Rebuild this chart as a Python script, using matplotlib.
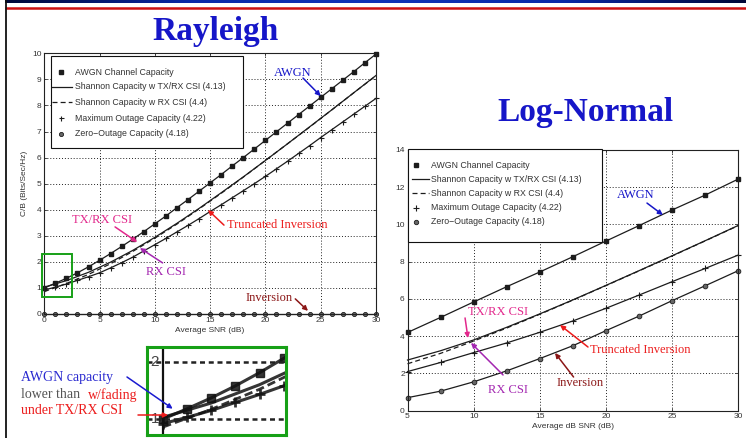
import matplotlib
matplotlib.use("Agg")
import matplotlib.pyplot as plt
import numpy as np
from matplotlib.colors import LinearSegmentedColormap
from matplotlib.patches import Rectangle

W, H = 746, 438

# ---------------------------------------------------------------------------
# Datos
# ---------------------------------------------------------------------------
ray_snr = [0, 1, 2, 3, 4, 5, 6, 7, 8, 9, 10, 11, 12, 13, 14, 15,
           16, 17, 18, 19, 20, 21, 22, 23, 24, 25, 26, 27, 28, 29, 30]
ray_awgn = [1.00, 1.18, 1.37, 1.58, 1.81, 2.06, 2.32, 2.59, 2.87, 3.16, 3.46,
            3.76, 4.08, 4.39, 4.71, 5.03, 5.35, 5.68, 6.00, 6.33, 6.66,
            6.99, 7.32, 7.65, 7.98, 8.31, 8.64, 8.97, 9.30, 9.64, 9.97]
ray_csi_snr = [0, 2, 4, 6, 8, 10, 12, 14, 16, 18, 20, 22, 24, 26, 28, 30]
ray_txrx = [1.03, 1.28, 1.60, 1.99, 2.44, 2.94, 3.48, 4.05, 4.65, 5.26, 5.89,
            6.53, 7.18, 7.83, 8.49, 9.15]
ray_rx = [0.86, 1.17, 1.52, 1.93, 2.40, 2.91, 3.45, 4.03, 4.63, 5.25, 5.89,
          6.53, 7.17, 7.83, 8.49, 9.14]
ray_trunc = [0.92, 1.03, 1.15, 1.29, 1.43, 1.58, 1.77, 1.97, 2.18, 2.42, 2.66,
             2.90, 3.15, 3.40, 3.66, 3.93, 4.19, 4.46, 4.73, 5.00, 5.28,
             5.57, 5.86, 6.16, 6.46, 6.77, 7.07, 7.37, 7.67, 7.97, 8.27]
ray_zero = [0, 0, 0, 0, 0, 0, 0, 0, 0, 0, 0, 0, 0, 0, 0, 0,
            0, 0, 0, 0, 0, 0, 0, 0, 0, 0, 0, 0, 0, 0, 0]

ln_snr = [5, 7.5, 10, 12.5, 15, 17.5, 20, 22.5, 25, 27.5, 30]
ln_awgn = [4.20, 5.01, 5.84, 6.66, 7.45, 8.27, 9.11, 9.94, 10.78, 11.58, 12.44]
ln_txrx = [2.72, 3.22, 3.80, 4.48, 5.20, 5.95, 6.73, 7.52, 8.32, 9.13, 9.95]
ln_rx = [2.52, 3.08, 3.74, 4.44, 5.18, 5.94, 6.72, 7.51, 8.31, 9.12, 9.94]
ln_trunc = [2.10, 2.59, 3.12, 3.64, 4.21, 4.82, 5.50, 6.21, 6.93, 7.64, 8.36]
ln_zero = [0.70, 1.05, 1.55, 2.14, 2.80, 3.49, 4.30, 5.08, 5.91, 6.71, 7.52]

legend_labels = [
    "AWGN Channel Capacity",
    "Shannon Capacity w TX/RX CSI (4.13)",
    "Shannon Capacity w RX CSI (4.4)",
    "Maximum Outage Capacity (4.22)",
    "Zero\u2212Outage Capacity (4.18)",
]

LINE = "#1c1c1c"
BLUE = "#1616c8"
PINK = "#e2288c"
PURPLE = "#a326b0"
RED = "#ec1c1c"
DARKRED = "#8b1616"
GREEN = "#17a017"
SERIF = ["Liberation Serif", "DejaVu Serif"]

plt.rcParams["font.family"] = ["Liberation Sans", "DejaVu Sans"]

fig = plt.figure(figsize=(W / 100, H / 100), dpi=100)


def px_axes(x0, y0, x1, y1, **kw):
    return fig.add_axes([x0 / W, 1 - y1 / H, (x1 - x0) / W, (y1 - y0) / H], **kw)


def style_axes(ax):
    ax.grid(True, linestyle=(0, (1, 2)), color="#222", lw=0.7)
    ax.tick_params(direction="in", length=2.5, width=0.6, labelsize=6,
                   colors="#333", pad=2, top=True, right=True)
    for s in ax.spines.values():
        s.set_linewidth(0.8)
        s.set_color("#222")


def plot_curves(ax, x_awgn, awgn, x_csi, txrx, rx, x_out, trunc, zero, ms=2.6):
    ax.plot(x_awgn, awgn, color=LINE, lw=0.9, marker="s", ms=ms,
            mfc=LINE, mec=LINE, clip_on=False)
    ax.plot(x_csi, txrx, color=LINE, lw=0.9, clip_on=False)
    ax.plot(x_csi, rx, color=LINE, lw=0.9, ls=(0, (4, 2.5)), clip_on=False)
    ax.plot(x_out, trunc, color=LINE, lw=0.9, marker="+", ms=ms + 1,
            mew=0.8, clip_on=False)
    ax.plot(x_out, zero, color=LINE, lw=0.9, marker="o", ms=ms + 0.4,
            mfc="#666", mec=LINE, mew=0.6, clip_on=False)


def arrow(ax, tail, head, color):
    ax.annotate("", xy=head, xytext=tail,
                arrowprops=dict(arrowstyle="-|>", color=color, lw=1.1,
                                mutation_scale=7, shrinkA=0, shrinkB=0))


# ---- Rayleigh ----
ax_r = px_axes(44.3, 53.3, 376, 314)
style_axes(ax_r)
plot_curves(ax_r, ray_snr, ray_awgn, ray_csi_snr, ray_txrx, ray_rx,
            ray_snr, ray_trunc, ray_zero)
ax_r.set_xlim(0, 30)
ax_r.set_ylim(0, 10)
ax_r.set_xticks(range(0, 31, 5))
ax_r.set_yticks(range(0, 11))

ann = dict(fontsize=9, family=SERIF)
ax_r.text(22.5, 9.24, "AWGN", color=BLUE, ha="center", va="center", **ann)
arrow(ax_r, (23.4, 9.05), (25.0, 8.36), BLUE)
ax_r.text(5.25, 3.6, "TX/RX CSI", color=PINK, ha="center", va="center", **ann)
arrow(ax_r, (6.4, 3.34), (8.4, 2.76), PINK)
ax_r.text(11.0, 1.61, "RX CSI", color=PURPLE, ha="center", va="center", **ann)
arrow(ax_r, (10.7, 1.96), (8.65, 2.53), PURPLE)
ax_r.text(16.5, 3.41, "Truncated Inversion", color=RED, ha="left", va="center", **ann)
arrow(ax_r, (16.25, 3.41), (14.8, 3.99), RED)
ax_r.text(20.3, 0.61, "Inversion", color=DARKRED, ha="center", va="center", **ann)
arrow(ax_r, (22.7, 0.58), (23.85, 0.12), DARKRED)

# ---- Log-Normal ----
ax_l = px_axes(407.5, 150, 738.3, 410.7)
style_axes(ax_l)
plot_curves(ax_l, ln_snr, ln_awgn, ln_snr, ln_txrx, ln_rx,
            ln_snr, ln_trunc, ln_zero, ms=3.0)
ax_l.set_xlim(5, 30)
ax_l.set_ylim(0, 14)
ax_l.set_xticks(range(5, 31, 5))
ax_l.set_yticks(range(0, 15, 2))

ax_l.text(22.23, 11.58, "AWGN", color=BLUE, ha="center", va="center", **ann)
arrow(ax_l, (23.1, 11.15), (24.3, 10.51), BLUE)
ax_l.text(11.84, 5.3, "TX/RX CSI", color=PINK, ha="center", va="center", **ann)
arrow(ax_l, (9.35, 4.98), (9.57, 3.9), PINK)
ax_l.text(12.6, 1.11, "RX CSI", color=PURPLE, ha="center", va="center", **ann)
arrow(ax_l, (12.22, 1.92), (9.8, 3.64), PURPLE)
ax_l.text(18.8, 3.26, "Truncated Inversion", color=RED, ha="left", va="center", **ann)
arrow(ax_l, (18.64, 3.42), (16.53, 4.6), RED)
ax_l.text(18.08, 1.49, "Inversion", color=DARKRED, ha="center", va="center", **ann)
arrow(ax_l, (17.55, 1.81), (16.15, 3.1), DARKRED)

# ---- Recuadro ampliado ----
ins = px_axes(147, 347, 286, 435, zorder=6)
ins.plot(ray_snr, ray_awgn, color="#111", lw=2.2, marker="s", ms=6, alpha=0.85)
ins.plot(ray_csi_snr, ray_txrx, color="#111", lw=2.2, alpha=0.85)
ins.plot(ray_csi_snr, ray_rx, color="#111", lw=2.0, ls=(0, (3, 1.5)), alpha=0.85)
ins.plot(ray_snr, ray_trunc, color="#111", lw=2.2, marker="+", ms=7, mew=2, alpha=0.85)
ins.axhline(1, color="#222", lw=1.8, ls=(0, (2, 1.5)))
ins.axhline(2, color="#222", lw=1.8, ls=(0, (2, 1.5)))
ins.axvline(0, color="#111", lw=1.6)
ins.text(-0.35, 2, "2", fontsize=11, color="#444", ha="center", va="center")
ins.text(-0.35, 1, "1", fontsize=11, color="#444", ha="center", va="center")
ins.set_xlim(-0.67, 5.1)
ins.set_ylim(0.72, 2.26)
ins.set_xticks([])
ins.set_yticks([])
for s in ins.spines.values():
    s.set_color(GREEN)
    s.set_linewidth(2.2)

# ---- Capa superior en pixeles ----
ov = fig.add_axes([0, 0, 1, 1], zorder=10)
ov.patch.set_alpha(0)
ov.axis("off")

band = LinearSegmentedColormap.from_list(
    "band", ["#000838", "#0a2aa8", "#1034b8", "#0a2aa8", "#000838"])
ov.imshow(np.linspace(0, 1, 256)[None, :], extent=(5, W, 3.5, 0),
          cmap=band, aspect="auto")
ov.plot([5, W], [8.2, 8.2], color="#cc1010", lw=1.8, solid_capstyle="butt")
ov.plot([5.8, 5.8], [0, H], color="#111", lw=1.3)

ov.text(216, 31.5, "Rayleigh", fontsize=24, family=SERIF, weight="bold",
        color=BLUE, ha="center", va="center")
ov.text(585, 113, "Log-Normal", fontsize=24, family=SERIF, weight="bold",
        color=BLUE, ha="center", va="center")

ov.text(24, 183, "C/B (Bits/Sec/Hz)", rotation=90, fontsize=6, color="#333",
        ha="center", va="center")
ov.text(210, 330, "Average SNR (dB)", fontsize=6, color="#333", ha="center", va="center")
ov.text(573, 427, "Average dB SNR (dB)", fontsize=6, color="#333", ha="center", va="center")


def draw_legend(box, rows, line_x, marker_x, text_x, ms):
    x0, y0, x1, y1 = box
    ov.add_patch(Rectangle((x0, y0), x1 - x0, y1 - y0, facecolor="white",
                           edgecolor="#111", lw=0.8))
    ov.plot([marker_x], [rows[0]], ls="none", marker="s", ms=ms, color=LINE)
    ov.plot(line_x, [rows[1]] * 2, color=LINE, lw=0.9)
    ov.plot(line_x, [rows[2]] * 2, color=LINE, lw=0.9, ls=(0, (4, 2.5)))
    ov.plot([marker_x], [rows[3]], ls="none", marker="+", ms=ms + 1, mew=0.8, color=LINE)
    ov.plot([marker_x], [rows[4]], ls="none", marker="o", ms=ms + 0.4,
            mfc="#666", mec=LINE, mew=0.6)
    for y, lab in zip(rows, legend_labels):
        ov.text(text_x, y, lab, fontsize=6.3, color="#333", ha="left", va="center")


draw_legend((50.5, 56, 243, 148), [72.3, 86.7, 102.3, 118.3, 134],
            [52, 71.5], 61, 75, 2.6)
draw_legend((407.5, 149, 602, 242), [165, 179.3, 193.3, 207.7, 221.7],
            [411.7, 429.3], 415.7, 431, 2.8)

# recuadro verde en el grafico de Rayleigh
ov.add_patch(Rectangle((41.5, 254), 30.2, 42.5, facecolor="none",
                       edgecolor=GREEN, lw=1.4))

tx = dict(fontsize=10, family=SERIF, ha="left", va="center")
ov.text(21, 377, "AWGN capacity", color="#2a2ad0", **tx)
ov.text(21, 395, "lower than", color="#555", **tx)
ov.text(87.5, 395, "w/fading", color=RED, **tx)
ov.text(21, 410, "under TX/RX CSI", color=RED, **tx)
arrow(ov, (127, 377), (172.7, 408.7), "#1a1ad0")
arrow(ov, (138, 415), (168, 415), RED)

ov.set_xlim(0, W)
ov.set_ylim(H, 0)

fig.savefig("out.png", dpi=100)
